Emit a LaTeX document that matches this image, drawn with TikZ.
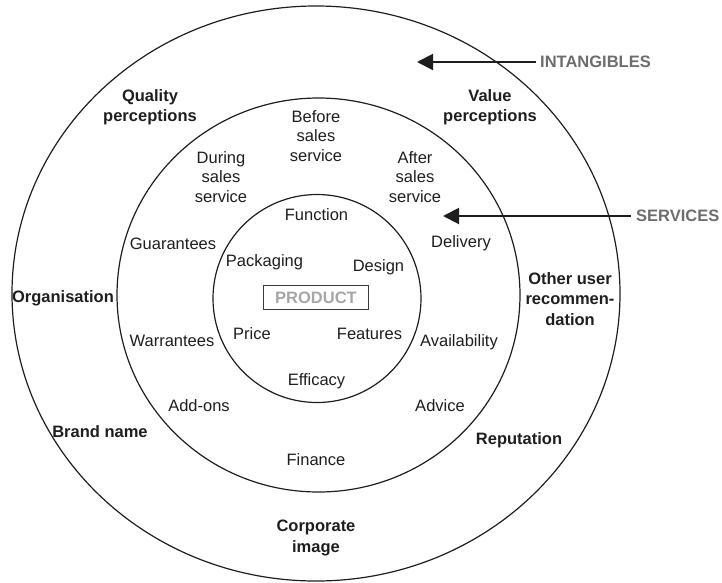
\documentclass[tikz,border=0pt]{standalone}
\usepackage{fontspec}
\setmainfont{Liberation Sans}
\usetikzlibrary{arrows.meta}
\definecolor{ink}{HTML}{1E1E1E}
\definecolor{tagc}{HTML}{6D6D70}
\definecolor{prodc}{HTML}{A6A6A6}
\definecolor{boxc}{HTML}{3A3A3A}
\begin{document}
\begin{tikzpicture}[x=1pt,y=-1pt,
  every node/.style={font=\fontsize{16.5}{19.5}\selectfont, text=ink, inner sep=0pt, align=center},
  ring/.style={draw=ink, line width=1.2pt},
  outerlbl/.style={font=\fontsize{16.5}{20.5}\selectfont\bfseries},
  midlbl/.style={},
  innerlbl/.style={},
  taglbl/.style={font=\fontsize{16.5}{19.5}\selectfont\bfseries, text=tagc, anchor=west},
  bigarrow/.style={draw=ink, line width=2pt, -{Triangle[length=16pt,width=16pt]}},
  prodbox/.style={draw=boxc, line width=1.5pt, minimum width=105pt, minimum height=24pt,
    text=prodc, font=\fontsize{16.5}{19.5}\selectfont\bfseries}
]
\useasboundingbox (0,0) rectangle (722,582);
% rings
\draw[ring] (316,293.5) ellipse [x radius=304pt, y radius=287.5pt];
\draw[ring] (318.5,295) ellipse [x radius=201.5pt, y radius=197pt];
\draw[ring] (317,298.5) ellipse [x radius=104pt, y radius=104pt];

% outer ring labels
\node[outerlbl] (quality) at (150,107) {Quality\\perceptions};
\node[outerlbl] (value) at (490,107) {Value\\perceptions};
\node[outerlbl] (organisation) at (63,298) {Organisation};
\node[outerlbl] (otheruser) at (570,299) {Other user\\recommen-\\dation};
\node[outerlbl] (brand) at (100,432) {Brand name};
\node[outerlbl] (reputation) at (519,440) {Reputation};
\node[outerlbl] (corporate) at (316,538) {Corporate\\image};

% middle ring labels
\node[midlbl] (before) at (316,136) {Before\\sales\\service};
\node[midlbl] (during) at (221,177) {During\\sales\\service};
\node[midlbl] (after) at (415,177) {After\\sales\\service};
\node[midlbl] (guarantees) at (173,244) {Guarantees};
\node[midlbl] (delivery) at (461,243) {Delivery};
\node[midlbl] (warrantees) at (172,341) {Warrantees};
\node[midlbl] (availability) at (459,342) {Availability};
\node[midlbl] (addons) at (199,406) {Add-ons};
\node[midlbl] (advice) at (440,406) {Advice};
\node[midlbl] (finance) at (316,460) {Finance};

% inner circle labels
\node[innerlbl] (function) at (316.5,215) {Function};
\node[innerlbl] (packaging) at (264.5,262) {Packaging};
\node[innerlbl] (design) at (378.5,267) {Design};
\node[prodbox] (product) at (316,297.5) {PRODUCT};
\node[innerlbl] (price) at (252,334) {Price};
\node[innerlbl] (features) at (369.5,334) {Features};
\node[innerlbl] (efficacy) at (316.5,381) {Efficacy};

% pointers
\node[taglbl] (intang) at (540,62) {INTANGIBLES};
\coordinate (itip) at (417,62);
\draw[bigarrow] ([xshift=-4pt]intang.west) -- (itip);
\node[taglbl] (services) at (636,216) {SERVICES};
\coordinate (stip) at (443,216);
\draw[bigarrow] ([xshift=-5pt]services.west) -- (stip);
\end{tikzpicture}
\end{document}
